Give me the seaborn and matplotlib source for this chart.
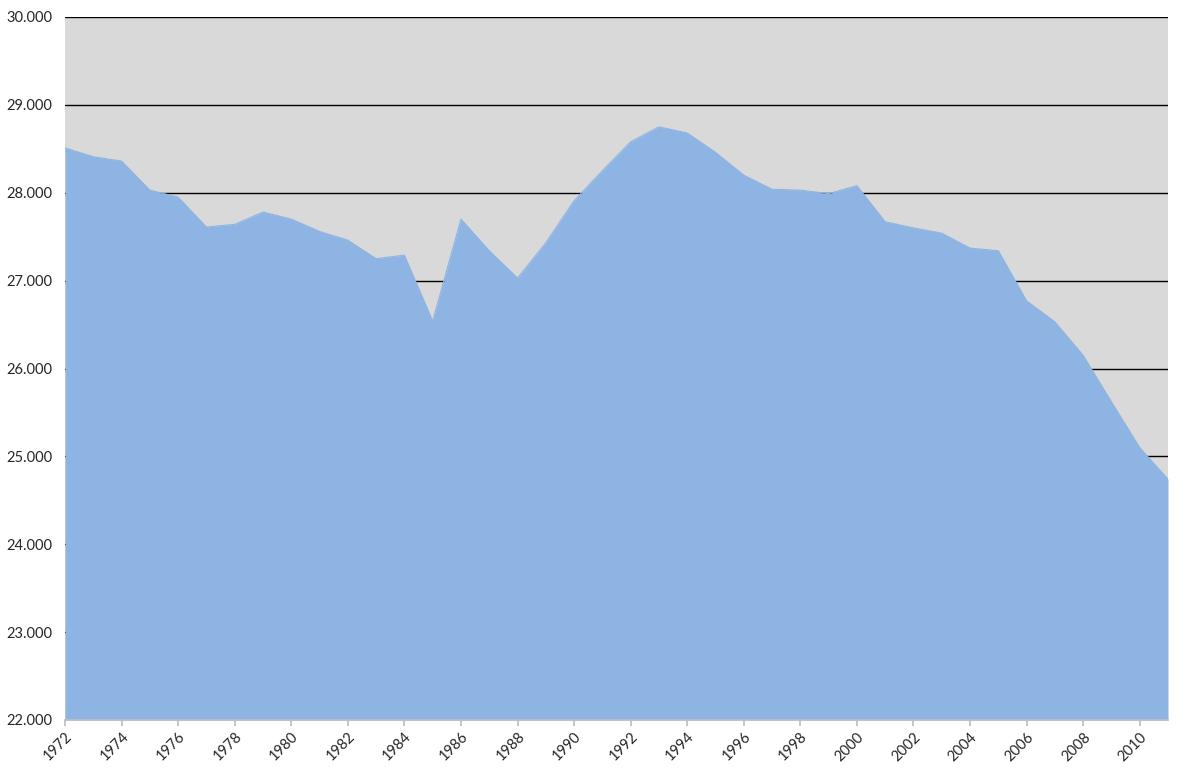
import numpy as np
import pandas as pd
import matplotlib
matplotlib.use("Agg")
import matplotlib.pyplot as plt
from matplotlib.ticker import FuncFormatter
import seaborn as sns

years = list(range(1972, 2012))
values = [
    28510, 28410, 28360, 28030, 27950, 27610, 27640, 27780, 27700, 27560,
    27460, 27250, 27290, 26540, 27700, 27340, 27030, 27430, 27910, 28250,
    28580, 28750, 28680, 28460, 28200, 28040, 28030, 27990, 28080, 27670,
    27600, 27540, 27370, 27340, 26770, 26530, 26150, 25620, 25100, 24740,
]
x_ticks = list(range(1972, 2011, 2))
y_ticks = list(range(22000, 30001, 1000))

fill_color = "#8EB4E3"
bg_color = "#D9D9D9"

sns.set_theme(style="white")
plt.rcParams["font.family"] = ["Lato", "DejaVu Sans"]

df = pd.DataFrame({"year": years, "value": values})

fig = plt.figure(figsize=(12, 7.75), dpi=100)
ax = fig.add_axes([65 / 1200, 1 - 720 / 775, (1168 - 65) / 1200, (720 - 17) / 775])
ax.set_facecolor(bg_color)

ax.fill_between(df["year"], df["value"], 22000, color=fill_color, linewidth=0, zorder=2)
sns.lineplot(data=df, x="year", y="value", ax=ax, color=fill_color, linewidth=0.8, zorder=3)

ax.set_xlim(1972, 2011)
ax.set_ylim(22000, 30000)
ax.set_yticks(y_ticks)
ax.set_xticks(x_ticks)
ax.yaxis.set_major_formatter(FuncFormatter(lambda v, p: f"{v / 1000:.3f}"))
ax.grid(axis="y", color="black", linewidth=1)
ax.set_axisbelow(True)
ax.set_xlabel("")
ax.set_ylabel("")

for s in ["top", "right", "left"]:
    ax.spines[s].set_visible(False)
ax.spines["bottom"].set_color("#BFBFBF")
ax.spines["bottom"].set_zorder(4)

ax.tick_params(axis="x", bottom=True, length=4, color="#BFBFBF", labelsize=10.5,
               labelcolor="#262626", pad=3)
ax.tick_params(axis="y", left=False, length=0, labelsize=10.5, labelcolor="#262626", pad=9)
plt.setp(ax.get_xticklabels(), rotation=45, ha="right", rotation_mode="anchor")

fig.savefig("out.png", dpi=100)
